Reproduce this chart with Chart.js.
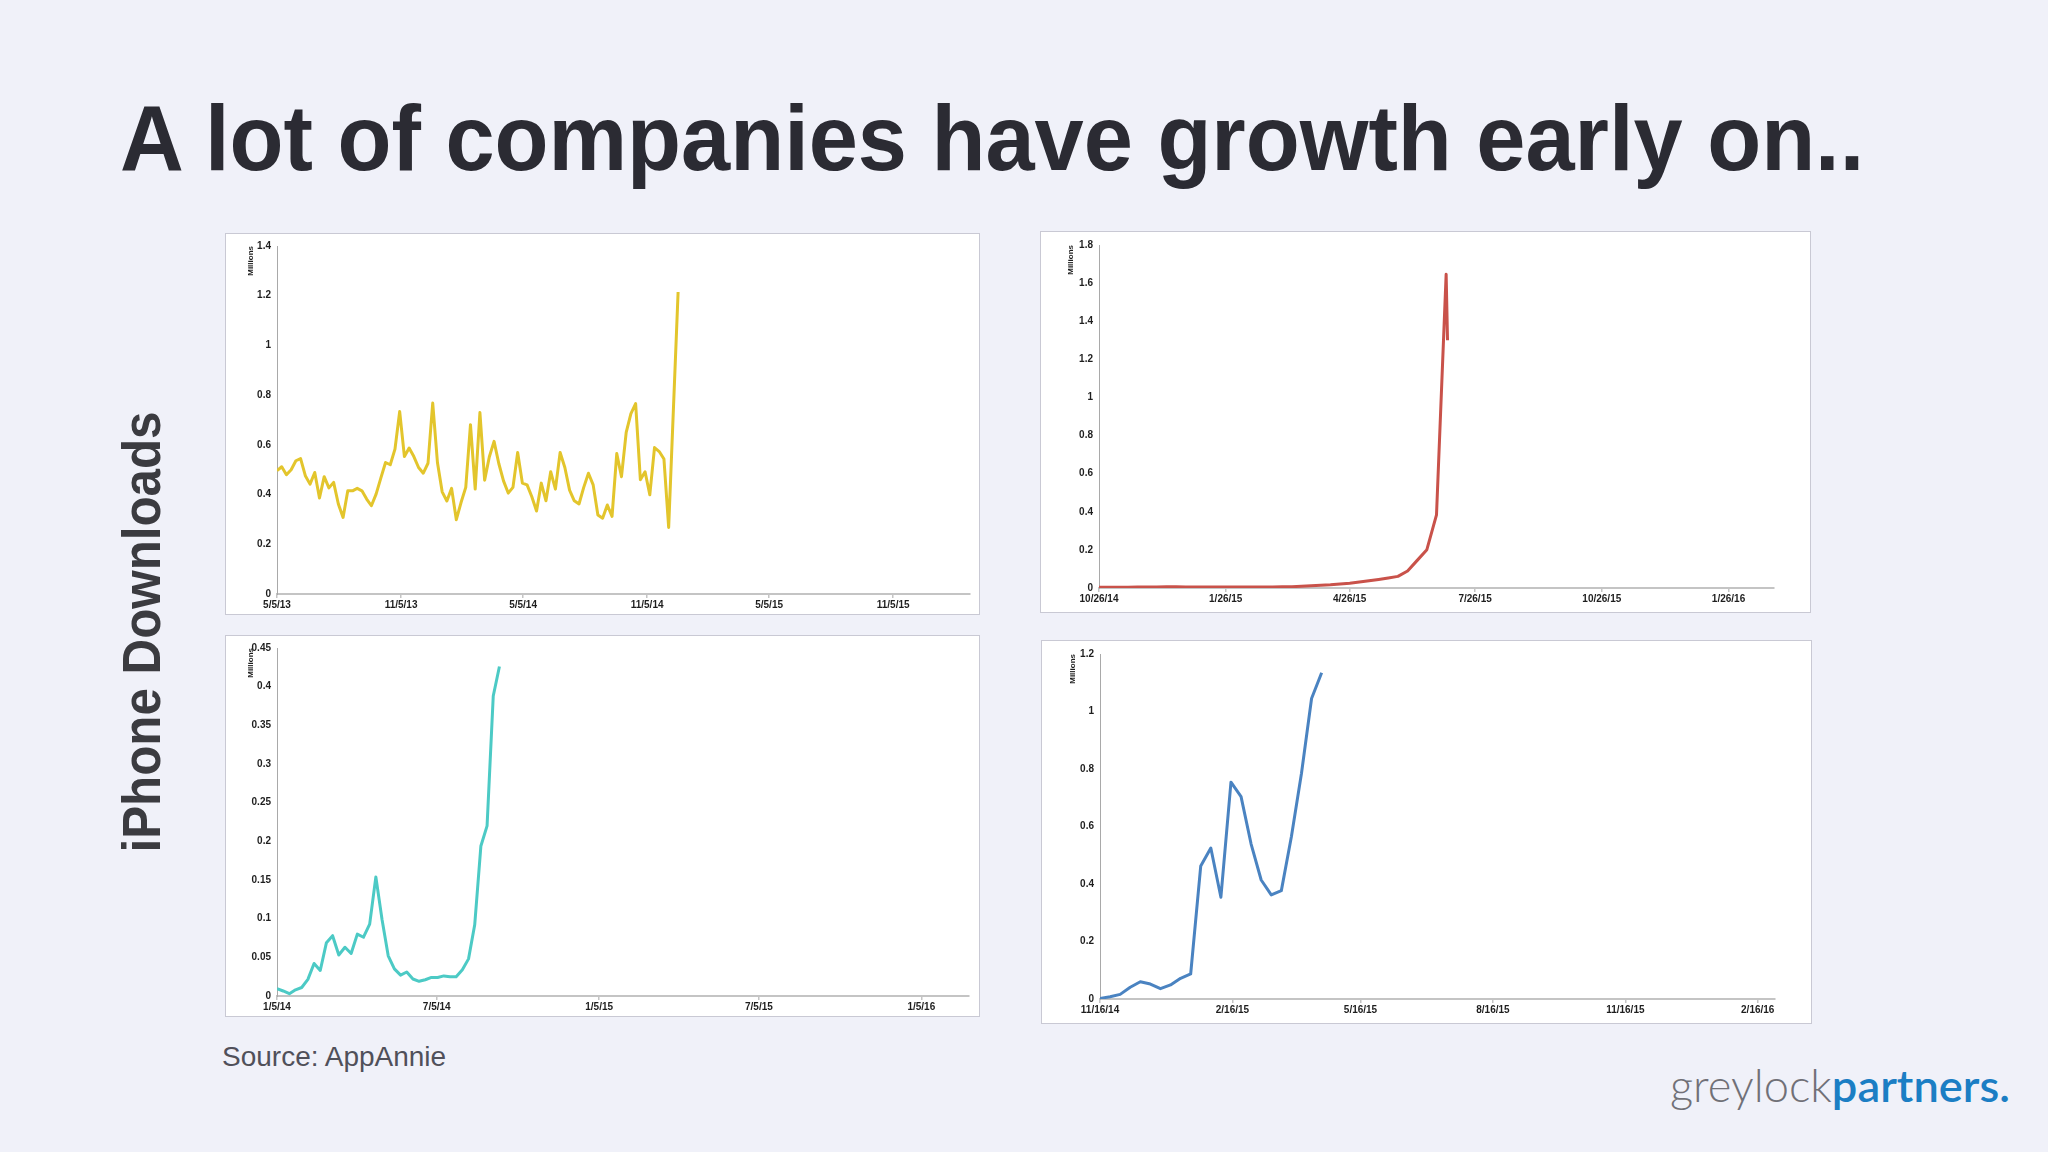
<!DOCTYPE html>
<html>
<head>
<meta charset="utf-8">
<script src="https://cdn.jsdelivr.net/npm/chart.js@4.4.0/dist/chart.umd.min.js"></script>
<style>
    html, body { margin: 0; padding: 0; }
    body {
        width: 2048px; height: 1152px; overflow: hidden; position: relative;
        background: #f0f1f9; font-family: "Liberation Sans", Arial, sans-serif;
    }
    #title {
        position: absolute; left: 120px; top: 92px; font-size: 93px; line-height: 93px;
        font-weight: bold; color: #2b2b33; white-space: nowrap; transform-origin: 0 0;
    }
    #side {
        position: absolute; left: 141px; top: 632px; font-size: 53px; line-height: 53px;
        font-weight: bold; color: #3b3b40; white-space: nowrap;
    }
    #source {
        position: absolute; left: 222px; top: 1043px; font-size: 28px; line-height: 28px;
        color: #50505a; white-space: nowrap;
    }
    #logo {
        position: absolute; left: 1670px; top: 1063px; font-family: Lato, "Open Sans", sans-serif;
        font-size: 45px; line-height: 45px; white-space: nowrap; transform-origin: 0 0;
    }
    #logo .grey { color: #707077; font-weight: 300; }
    #logo .blue { color: #1b7ec4; font-weight: 600; }
    .panel {
        position: absolute; background: #fff; border: 1px solid #c9c9d4; box-sizing: border-box;
    }
    .panel canvas { display: block; }
</style>
</head>
<body>
<div id="title">A lot of companies have growth early on..</div>
<div id="side">iPhone Downloads</div>
<div id="source">Source: AppAnnie</div>
<div id="logo"><span class="grey">greylock</span><span class="blue">partners.</span></div>

<div class="panel" style="left:225px;top:233px;width:755px;height:382px"><canvas id="chartYellow"></canvas></div>
<div class="panel" style="left:1040px;top:231px;width:771px;height:382px"><canvas id="chartRed"></canvas></div>
<div class="panel" style="left:225px;top:635px;width:755px;height:382px"><canvas id="chartTeal"></canvas></div>
<div class="panel" style="left:1041px;top:640px;width:771px;height:384px"><canvas id="chartBlue"></canvas></div>

<script>
// weekly downloads (millions), first week = first tick date
const yellowValues = [
    0.496, 0.512, 0.48, 0.50, 0.536, 0.545, 0.476, 0.442, 0.489, 0.386,
    0.472, 0.427, 0.449, 0.362, 0.308, 0.415, 0.415, 0.425, 0.415, 0.382,
    0.355, 0.402, 0.466, 0.529, 0.52, 0.583, 0.734, 0.553, 0.587, 0.553,
    0.509, 0.486, 0.526, 0.768, 0.529, 0.411, 0.374, 0.425, 0.299, 0.368,
    0.429, 0.681, 0.422, 0.730, 0.458, 0.552, 0.614, 0.525, 0.455, 0.406,
    0.429, 0.569, 0.446, 0.439, 0.391, 0.334, 0.446, 0.375, 0.492, 0.422,
    0.569, 0.509, 0.418, 0.375, 0.362, 0.429, 0.486, 0.439, 0.318, 0.305,
    0.358, 0.312, 0.565, 0.472, 0.650, 0.726, 0.766, 0.46, 0.492, 0.399,
    0.589, 0.573, 0.543, 0.268, null, 1.215
];
const yellowTickDays = [0, 184, 365, 549, 730, 914];
const yellowTickLabels = ['5/5/13', '11/5/13', '5/5/14', '11/5/14', '5/5/15', '11/5/15'];

const redValues = [
    0.004, 0.004, 0.004, 0.004, 0.005, 0.005, 0.005, 0.006, 0.006, 0.005,
    0.005, 0.005, 0.005, 0.005, 0.005, 0.005, 0.005, 0.005, 0.005, 0.006,
    0.007, 0.009, 0.012, 0.015, 0.017, 0.021, 0.025, 0.031, 0.038, 0.045,
    0.053, 0.061, 0.089, 0.145, 0.201, 0.384, 1.646
];
const redTail = [[253, 1.30]]; // partial last day
const redTickDays = [0, 92, 182, 273, 365, 457];
const redTickLabels = ['10/26/14', '1/26/15', '4/26/15', '7/26/15', '10/26/15', '1/26/16'];

const tealValues = [
    0.0095, 0.0065, 0.003, 0.008, 0.011, 0.0215, 0.042, 0.033, 0.069, 0.078,
    0.053, 0.063, 0.055, 0.080, 0.076, 0.093, 0.154, 0.099, 0.052, 0.035,
    0.027, 0.031, 0.022, 0.019, 0.021, 0.024, 0.024, 0.026, 0.025, 0.025,
    0.034, 0.048, 0.092, 0.194, 0.220, 0.388, 0.426
];
const tealTickDays = [0, 181, 365, 546, 730];
const tealTickLabels = ['1/5/14', '7/5/14', '1/5/15', '7/5/15', '1/5/16'];

const blueValues = [
    0.002, 0.008, 0.016, 0.041, 0.060, 0.052, 0.036, 0.049, 0.072, 0.087,
    0.463, 0.525, 0.354, 0.754, 0.704, 0.539, 0.414, 0.362, 0.377, 0.565,
    0.785, 1.045, 1.135
];
const blueTickDays = [0, 92, 181, 273, 365, 457];
const blueTickLabels = ['11/16/14', '2/16/15', '5/16/15', '8/16/15', '11/16/15', '2/16/16'];

const weekly = values => values.map((v, i) => ({ x: i * 7, y: v }));

function lineChart(id, color, points, tickDays, tickLabels, xMax, yMax, yStep, pad) {
    const tickFont = { family: '"Liberation Sans", Arial, sans-serif', size: 10, weight: 'bold' };
    return new Chart(document.getElementById(id), {
        type: 'line',
        data: {
            datasets: [{
                data: points,
                borderColor: color,
                borderWidth: 3,
                borderJoinStyle: 'round',
                pointRadius: 0,
                tension: 0,
                spanGaps: true,
            }],
        },
        options: {
            responsive: true,
            maintainAspectRatio: false,
            animation: false,
            layout: { padding: { left: 0, top: pad.top, right: pad.right, bottom: 0 } },
            plugins: { legend: { display: false }, tooltip: { enabled: false } },
            scales: {
                x: {
                    type: 'linear',
                    min: 0,
                    max: xMax,
                    afterBuildTicks: s => { s.ticks = tickDays.map(v => ({ value: v })); },
                    afterFit: s => { s.height = pad.bottom; },
                    grid: { drawOnChartArea: false, drawTicks: true, tickLength: 4, color: '#c4c4c4', lineWidth: 1.5 },
                    border: { color: '#c4c4c4', width: 2 },
                    ticks: {
                        autoSkip: false, maxRotation: 0, padding: 1, color: '#1e1e1e', font: tickFont,
                        callback: (v, i) => tickLabels[i],
                    },
                },
                y: {
                    min: 0,
                    max: yMax,
                    afterFit: s => { s.width = pad.left; },
                    grid: { display: false, drawTicks: false },
                    border: { color: '#a9a9a9', width: 1 },
                    ticks: {
                        stepSize: yStep, padding: 6, color: '#1e1e1e', font: tickFont,
                        callback: v => String(+v.toFixed(2)),
                    },
                    title: {
                        display: true, text: 'Millions', align: 'end', color: '#1e1e1e',
                        font: { family: '"Liberation Sans", Arial, sans-serif', size: 8, weight: 'bold' },
                        padding: { top: pad.title, bottom: 0 },
                    },
                },
            },
        },
    });
}

lineChart('chartYellow', '#e3c52c', weekly(yellowValues), yellowTickDays, yellowTickLabels,
    1028, 1.4, 0.2, { left: 51, top: 11, right: 9, bottom: 20, title: 20 });
lineChart('chartRed', '#c9524a',
    weekly(redValues).concat(redTail.map(([x, y]) => ({ x, y }))), redTickDays, redTickLabels,
    490, 1.8, 0.2, { left: 58, top: 13, right: 36, bottom: 24, title: 25 });
lineChart('chartTeal', '#4ccac5', weekly(tealValues), tealTickDays, tealTickLabels,
    784, 0.45, 0.05, { left: 51, top: 11, right: 10, bottom: 20, title: 20 });
lineChart('chartBlue', '#4a83c1', weekly(blueValues), blueTickDays, blueTickLabels,
    469, 1.2, 0.2, { left: 58, top: 13, right: 36, bottom: 24, title: 26 });

// fit the slide texts to the widths measured on the reference
function fit(el, target, base) {
    const s = target / el.offsetWidth;
    el.style.transform = base.replace('S', s.toFixed(4));
}
fit(document.getElementById('title'), 1744, 'scaleX(S)');
fit(document.getElementById('side'), 441, 'translate(-50%, -50%) rotate(-90deg) scaleX(S)');
fit(document.getElementById('logo'), 340, 'scaleX(S)');
</script>
</body>
</html>
